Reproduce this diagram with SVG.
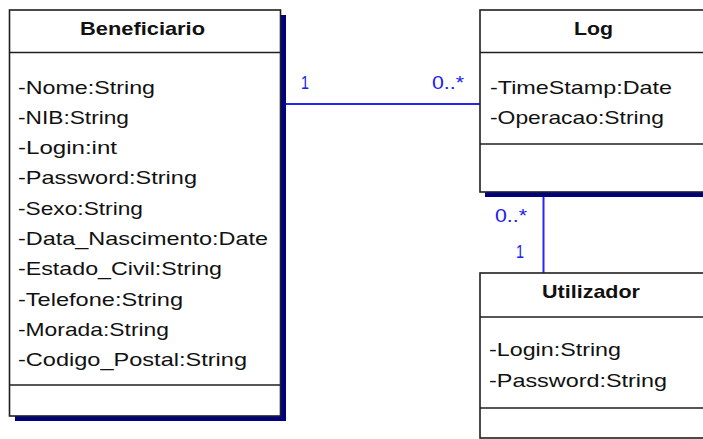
<svg xmlns="http://www.w3.org/2000/svg" width="703" height="439" viewBox="0 0 703 439">
<style>
.box{fill:#fff;stroke:#1e1e1e;stroke-width:1.6}
.div{stroke:#1e1e1e;stroke-width:1.6}
.shadow{fill:#000080}
.t{font-family:"Liberation Sans",Arial,sans-serif;font-size:19px;fill:#111}
.title{font-family:"Liberation Sans",Arial,sans-serif;font-size:19px;font-weight:bold;fill:#111}
.conn{stroke:#2626f0;stroke-width:2;fill:none}
.lbl{font-family:"Liberation Sans",Arial,sans-serif;font-size:19px;fill:#2020ee}
</style>
<rect width="703" height="439" fill="#fff"/>
<g id="connectors">
  <line class="conn" x1="286" y1="104" x2="480" y2="104"/>
  <line class="conn" x1="543.5" y1="196" x2="543.5" y2="273"/>
  <text class="lbl" x="301" y="89" textLength="8" lengthAdjust="spacingAndGlyphs">1</text>
  <text class="lbl" x="432" y="89" textLength="32" lengthAdjust="spacingAndGlyphs">0..*</text>
  <text class="lbl" x="495" y="222" textLength="32" lengthAdjust="spacingAndGlyphs">0..*</text>
  <text class="lbl" x="516" y="258" textLength="8" lengthAdjust="spacingAndGlyphs">1</text>
</g>
<g id="Beneficiario">
  <rect class="shadow" x="15" y="15" width="271" height="406"/>
  <rect class="box" x="9.5" y="10" width="271" height="406"/>
  <line class="div" x1="9.5" y1="52.5" x2="280.5" y2="52.5"/>
  <line class="div" x1="9.5" y1="385" x2="280.5" y2="385"/>
  <text class="title" x="80" y="34.5" textLength="125" lengthAdjust="spacingAndGlyphs">Beneficiario</text>
  <text class="t" x="18" y="93.5" textLength="137" lengthAdjust="spacingAndGlyphs">-Nome:String</text>
  <text class="t" x="18" y="123.8" textLength="111" lengthAdjust="spacingAndGlyphs">-NIB:String</text>
  <text class="t" x="18" y="154.1" textLength="99" lengthAdjust="spacingAndGlyphs">-Login:int</text>
  <text class="t" x="18" y="184.4" textLength="179" lengthAdjust="spacingAndGlyphs">-Password:String</text>
  <text class="t" x="18" y="214.7" textLength="125" lengthAdjust="spacingAndGlyphs">-Sexo:String</text>
  <text class="t" x="18" y="245" textLength="250" lengthAdjust="spacingAndGlyphs">-Data_Nascimento:Date</text>
  <text class="t" x="18" y="275.3" textLength="204" lengthAdjust="spacingAndGlyphs">-Estado_Civil:String</text>
  <text class="t" x="18" y="305.6" textLength="165" lengthAdjust="spacingAndGlyphs">-Telefone:String</text>
  <text class="t" x="18" y="335.9" textLength="151" lengthAdjust="spacingAndGlyphs">-Morada:String</text>
  <text class="t" x="18" y="366.2" textLength="229" lengthAdjust="spacingAndGlyphs">-Codigo_Postal:String</text>
</g>
<g id="Log">
  <rect class="shadow" x="485" y="15" width="230" height="182"/>
  <rect class="box" x="480" y="10" width="230" height="182"/>
  <line class="div" x1="480" y1="52.5" x2="710" y2="52.5"/>
  <line class="div" x1="480" y1="144" x2="710" y2="144"/>
  <text class="title" x="574" y="34.5" textLength="39" lengthAdjust="spacingAndGlyphs">Log</text>
  <text class="t" x="490" y="93.5" textLength="182" lengthAdjust="spacingAndGlyphs">-TimeStamp:Date</text>
  <text class="t" x="490" y="123.8" textLength="174" lengthAdjust="spacingAndGlyphs">-Operacao:String</text>
</g>
<g id="Utilizador">
  <rect class="box" x="480" y="273" width="230" height="165"/>
  <line class="div" x1="480" y1="317" x2="710" y2="317"/>
  <line class="div" x1="480" y1="408" x2="710" y2="408"/>
  <text class="title" x="542" y="298" textLength="98" lengthAdjust="spacingAndGlyphs">Utilizador</text>
  <text class="t" x="489" y="356" textLength="132" lengthAdjust="spacingAndGlyphs">-Login:String</text>
  <text class="t" x="489" y="386.5" textLength="178" lengthAdjust="spacingAndGlyphs">-Password:String</text>
</g>
</svg>
